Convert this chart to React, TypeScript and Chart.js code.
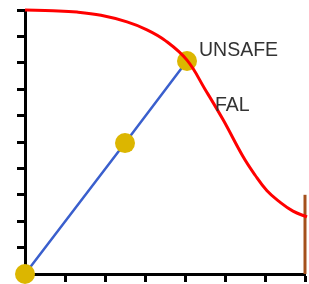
import React, { useEffect, useRef } from "react";
import { Chart, registerables } from "chart.js";

Chart.register(...registerables);

const falX = [0, 0.7, 1.3, 1.9, 2.55, 3.05, 3.5, 4.05, 4.5, 4.95, 5.45, 5.75, 6.05, 6.35, 6.7, 7.05];
const falY = [10, 9.97, 9.92, 9.8, 9.55, 9.25, 8.85, 8.1, 7.0, 5.85, 4.45, 3.75, 3.15, 2.75, 2.38, 2.16];

const pathX = [0, 2.5, 4.05];
const pathY = [0, 4.96, 8.07];

const limitX = [7, 7];
const limitY = [0, 3];

const labelTexts = ["UNSAFE", "FAL"];
const labelX = [4.35, 4.75];
const labelY = [8.48, 6.36];

const xMin = 0, xMax = 7, yMin = 0, yMax = 10;

const zip = (xs: number[], ys: number[]) => xs.map((x, i) => ({ x, y: ys[i] }));

const textPlugin = {
  id: "textLabels",
  afterDatasetsDraw(chart: any) {
    const { ctx, scales } = chart;
    ctx.save();
    ctx.font = "19.5px 'Liberation Sans', Arial, sans-serif";
    ctx.fillStyle = "#333333";
    ctx.textAlign = "left";
    ctx.textBaseline = "middle";
    labelTexts.forEach((t, i) => {
      ctx.fillText(t, scales.x.getPixelForValue(labelX[i]), scales.y.getPixelForValue(labelY[i]));
    });
    ctx.restore();
  },
};

export default function App() {
  const ref = useRef<HTMLCanvasElement | null>(null);
  useEffect(() => {
    if (!ref.current) return;
    const axisCommon = {
      type: "linear" as const,
      border: { display: true, color: "#000", width: 3 },
      grid: {
        display: true,
        drawOnChartArea: false,
        drawTicks: true,
        tickLength: 8,
        tickWidth: 3,
        tickColor: "#000",
        color: "#000",
      },
      ticks: { display: false, stepSize: 1 },
    };
    const chart = new Chart(ref.current, {
      type: "scatter",
      data: {
        datasets: [
          {
            data: zip(falX, falY),
            showLine: true,
            borderColor: "#ff0000",
            borderWidth: 3,
            pointRadius: 0,
            tension: 0.4,
            clip: false as any,
          },
          {
            data: zip(limitX, limitY),
            showLine: true,
            borderColor: "#a4501c",
            borderWidth: 3,
            pointRadius: 0,
            clip: false as any,
          },
          {
            data: zip(pathX, pathY),
            showLine: true,
            borderColor: "#3a5fcd",
            borderWidth: 2.5,
            pointRadius: 10,
            pointBackgroundColor: "#dcb600",
            pointBorderWidth: 0,
            pointBorderColor: "#dcb600",
            clip: false as any,
          },
        ],
      },
      options: {
        responsive: false,
        animation: false,
        events: [],
        layout: { padding: { left: 17, top: 10, right: 4, bottom: 2 } },
        plugins: { legend: { display: false }, tooltip: { enabled: false } },
        scales: {
          x: { ...axisCommon, min: xMin, max: xMax },
          y: { ...axisCommon, min: yMin, max: yMax },
        },
      },
      plugins: [textPlugin],
    });
    return () => chart.destroy();
  }, []);
  return (
    <div style={{ position: "absolute", left: 0, top: 0, width: 309, height: 284, overflow: "hidden", background: "#fff" }}>
      <canvas ref={ref} width={315} height={284} />
    </div>
  );
}
